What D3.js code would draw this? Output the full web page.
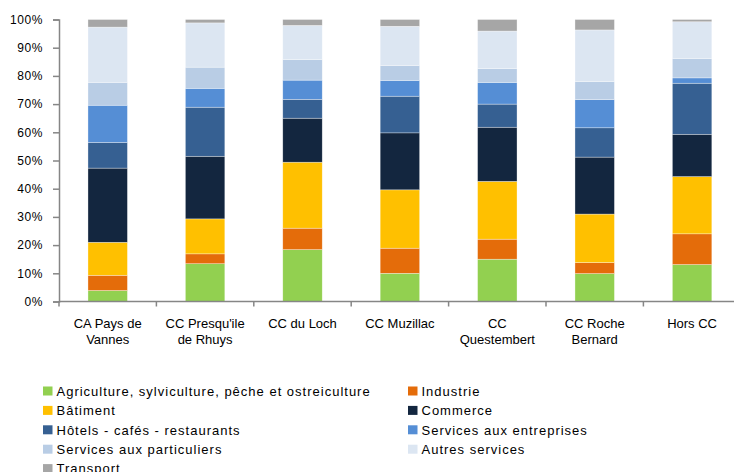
<!DOCTYPE html>
<html><head><meta charset="utf-8">
<script src="https://cdn.jsdelivr.net/npm/d3@7"></script>
<style>
html,body{margin:0;padding:0;background:#fff;}
svg{display:block;font-family:"Liberation Sans",Arial,sans-serif;}
</style></head>
<body><svg id="chart" width="734" height="472"></svg>
<script>
const categories = [["CA Pays de","Vannes"],["CC Presqu'ile","de Rhuys"],["CC du Loch"],["CC Muzillac"],["CC","Questembert"],["CC Roche","Bernard"],["Hors CC"]];
const categoryKeys = categories.map(c => c.join(" "));
const seriesNames = ["Agriculture, sylviculture, pêche et ostreiculture","Industrie","Bâtiment","Commerce","Hôtels - cafés - restaurants","Services aux entreprises","Services aux particuliers","Autres services","Transport"];
const agriculture      = [3.9, 13.4, 18.4, 10.0, 15.0, 9.9, 13.1];
const industrie        = [5.4, 3.5, 7.6, 8.9, 7.1, 3.9, 10.9];
const batiment         = [11.7, 12.4, 23.4, 20.7, 20.5, 17.2, 20.3];
const commerce         = [26.3, 22.2, 15.6, 20.2, 19.2, 20.2, 15.0];
const hotels           = [9.1, 17.4, 6.7, 13.0, 8.2, 10.4, 18.1];
const servEntreprises  = [13.2, 6.7, 6.8, 5.6, 7.7, 10.0, 1.9];
const servParticuliers = [8.1, 7.5, 7.3, 5.3, 4.9, 6.4, 6.9];
const autresServices   = [19.6, 15.7, 12.1, 13.9, 13.3, 18.3, 13.0];
const transport        = [2.7, 1.2, 2.1, 2.4, 4.1, 3.7, 0.8];
const yTicks = [0,10,20,30,40,50,60,70,80,90,100];
const colors = ["#92D050","#E46C0A","#FFC000","#13263F","#366092","#558ED5","#B9CDE5","#DCE6F2","#A6A6A6"];

const seriesValues = [agriculture,industrie,batiment,commerce,hotels,servEntreprises,servParticuliers,autresServices,transport];
const table = categoryKeys.map((k,i) => {
  const row = {cat:k};
  seriesNames.forEach((s,j) => row[s] = seriesValues[j][i]);
  return row;
});
const stacked = d3.stack().keys(seriesNames)(table);

const svg = d3.select("#chart");
const x = d3.scaleBand().domain(categoryKeys).range([59, 740.8]).paddingInner(0.595).paddingOuter(0.2975);
const y = d3.scaleLinear().domain([0,100]).range([301.5, 19.5]);
const axisColor = "#868686";

// bars
svg.append("g").selectAll("g").data(stacked).join("g")
  .attr("fill", (d,i) => colors[i])
  .selectAll("rect").data(d => d).join("rect")
  .attr("x", d => x(d.data.cat))
  .attr("width", x.bandwidth())
  .attr("y", d => y(d[1]))
  .attr("height", d => y(d[0]) - y(d[1]))
  .attr("stroke", "rgba(255,255,255,0.55)")
  .attr("stroke-width", 0.6);

// y axis
const yAxis = svg.append("g").attr("transform","translate(59,0)")
  .call(d3.axisLeft(y).tickValues(yTicks).tickFormat(d => d + "%").tickSize(6).tickPadding(10));
yAxis.select(".domain").attr("stroke", axisColor).attr("stroke-width",1.5);
yAxis.selectAll(".tick line").attr("stroke", axisColor).attr("stroke-width",1.5);
yAxis.selectAll(".tick text").attr("font-size",12).attr("letter-spacing","0.6px").attr("fill","#000")
  .attr("font-family","'Liberation Sans',Arial,sans-serif");

// x axis
const step = x.step();
const bounds = d3.range(categoryKeys.length + 1).map(i => 59 + i*step);
svg.append("line").attr("x1",59).attr("x2",734).attr("y1",y(0)).attr("y2",y(0))
  .attr("stroke",axisColor).attr("stroke-width",1.5);
svg.append("g").selectAll("line").data(bounds).join("line")
  .attr("x1", d => d).attr("x2", d => d).attr("y1", y(0)).attr("y2", y(0)+5)
  .attr("stroke",axisColor).attr("stroke-width",1.5);

// category labels
const lab = svg.append("g").selectAll("text").data(categories).join("text")
  .attr("text-anchor","middle").attr("font-size",13).attr("fill","#000")
  .attr("x",(d,i) => x(categoryKeys[i]) + x.bandwidth()/2)
  .attr("y", 327.5);
lab.selectAll("tspan").data(d => d).join("tspan")
  .attr("x", function(){ return this.parentNode.getAttribute("x"); })
  .attr("dy",(d,i) => i === 0 ? 0 : 16)
  .text(d => d);

// legend
const legend = svg.append("g").selectAll("g").data(seriesNames).join("g")
  .attr("transform",(d,i) => `translate(${i%2===0 ? 43 : 408},${391 + Math.floor(i/2)*19.4})`);
legend.append("rect").attr("x",0).attr("y",-4.5).attr("width",9.5).attr("height",9)
  .attr("fill",(d,i) => colors[i]);
legend.append("text").attr("x",13.5).attr("y",4.7).attr("font-size",13).attr("letter-spacing","1px")
  .attr("fill","#000").text(d => d);
</script></body></html>
